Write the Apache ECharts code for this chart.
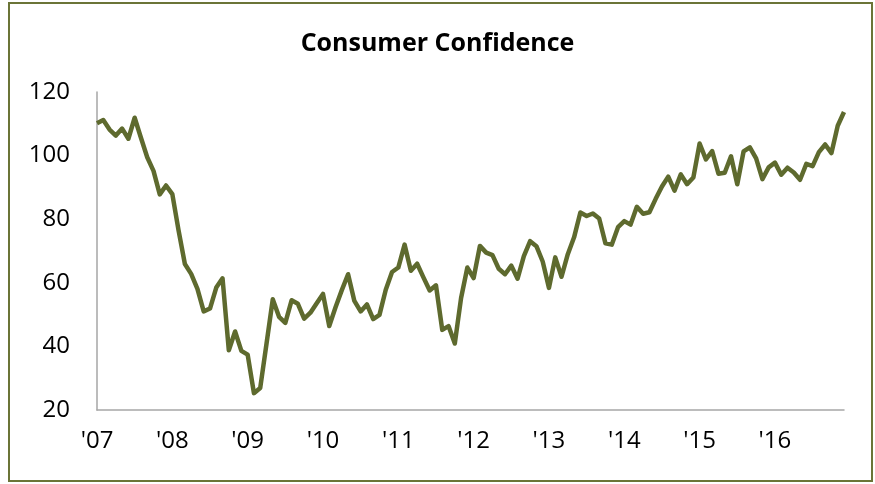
<!DOCTYPE html>
<html>
<head>
<meta charset="utf-8">
<script src="https://cdn.jsdelivr.net/npm/echarts@6/dist/echarts.min.js"></script>
<style>
  html, body { margin: 0; padding: 0; background: #fff; }
  #chart { width: 875px; height: 484px; }
  .frame {
    position: absolute; left: 8px; top: 2px; width: 861px; height: 476px;
    border: 2px solid #6b7437; pointer-events: none;
  }
</style>
</head>
<body>
<div id="chart"></div>
<div class="frame"></div>
<script>
// year labels shown on the x axis
const yearLabels = ["'07", "'08", "'09", "'10", "'11", "'12", "'13", "'14", "'15", "'16"];

// monthly index values, one array per year (Jan..Dec)
const cc2007 = [110.2, 111.2, 108.2, 106.3, 108.5, 105.3, 111.9, 105.6, 99.5, 95.2, 87.8, 90.6];
const cc2008 = [87.9, 76.4, 65.9, 62.8, 58.1, 51.0, 51.9, 58.5, 61.4, 38.8, 44.7, 38.6];
const cc2009 = [37.4, 25.3, 26.9, 40.8, 54.8, 49.3, 47.4, 54.5, 53.4, 48.7, 50.6, 53.6];
const cc2010 = [56.5, 46.4, 52.3, 57.7, 62.7, 54.3, 51.0, 53.2, 48.6, 49.9, 57.8, 63.4];
const cc2011 = [64.8, 72.0, 63.8, 66.0, 61.7, 57.6, 59.2, 45.2, 46.4, 40.9, 55.2, 64.8];
const cc2012 = [61.5, 71.6, 69.5, 68.7, 64.4, 62.7, 65.4, 61.3, 68.4, 73.1, 71.5, 66.7];
const cc2013 = [58.4, 68.0, 61.9, 69.0, 74.3, 82.1, 81.0, 81.8, 80.2, 72.4, 72.0, 77.5];
const cc2014 = [79.4, 78.3, 83.9, 81.7, 82.2, 86.4, 90.3, 93.4, 89.0, 94.1, 91.0, 93.1];
const cc2015 = [103.8, 98.8, 101.4, 94.3, 94.6, 99.8, 91.0, 101.3, 102.6, 99.1, 92.6, 96.3];
const cc2016 = [97.8, 94.0, 96.2, 94.7, 92.4, 97.4, 96.7, 101.1, 103.5, 100.8, 109.4, 113.7];

const yearly = [cc2007, cc2008, cc2009, cc2010, cc2011, cc2012, cc2013, cc2014, cc2015, cc2016];

// build month categories: first month of each year carries the label
const categories = [];
const values = [];
yearly.forEach((arr, y) => {
  arr.forEach((v, m) => {
    categories.push(m === 0 ? yearLabels[y] : yearLabels[y] + '-' + (m + 1));
    values.push(v);
  });
});

const font = "'Open Sans', 'Noto Sans', sans-serif";

const chart = echarts.init(document.getElementById('chart'));
chart.setOption({
  animation: false,
  title: {
    text: 'Consumer Confidence',
    left: 'center',
    top: 26,
    textStyle: { fontFamily: font, fontSize: 25, fontWeight: 'bold', color: '#000' }
  },
  grid: { left: 97, right: 31, top: 92, bottom: 74 },
  xAxis: {
    type: 'category',
    data: categories,
    boundaryGap: false,
    axisLine: { lineStyle: { color: '#a6a6a6', width: 1.5 } },
    axisTick: { show: false },
    axisLabel: {
      interval: 11,
      margin: 19,
      color: '#000',
      fontFamily: font,
      fontSize: 24,
      formatter: v => v.indexOf('-') === -1 ? v : ''
    },
    splitLine: { show: false }
  },
  yAxis: {
    type: 'value',
    min: 20,
    max: 120,
    interval: 20,
    axisLine: { show: true, lineStyle: { color: '#a6a6a6', width: 1.5 } },
    axisTick: { show: false },
    axisLabel: { margin: 27, color: '#000', fontFamily: font, fontSize: 24 },
    splitLine: { show: false }
  },
  series: [{
    type: 'line',
    data: values,
    symbol: 'none',
    lineStyle: { color: '#5e6a2e', width: 4.5, join: 'round' }
  }]
});
</script>
</body>
</html>
